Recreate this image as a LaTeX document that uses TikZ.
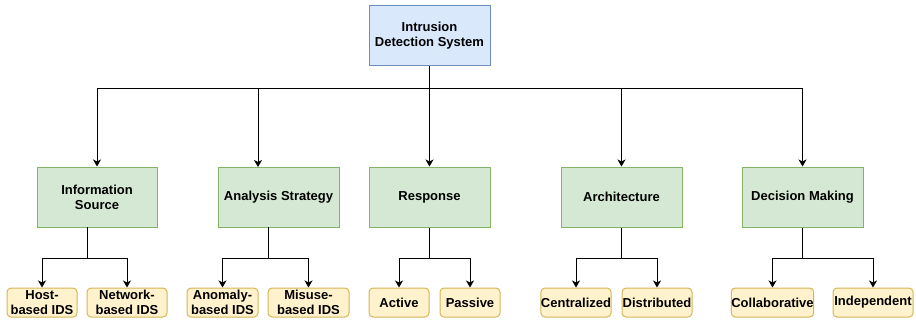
\documentclass[tikz,border=0pt]{standalone}
\usepackage{fontspec}
\setmainfont{Liberation Sans}
\usetikzlibrary{arrows.meta}
\definecolor{rootfill}{HTML}{DAE8FC}
\definecolor{rootline}{HTML}{6C8EBF}
\definecolor{catfill}{HTML}{D5E8D4}
\definecolor{catline}{HTML}{82B366}
\definecolor{leaffill}{HTML}{FFF2CC}
\definecolor{leafline}{HTML}{D6B656}
\tikzset{
  box/.style={draw, line width=1pt, inner sep=0pt, align=center,
    font=\bfseries\fontsize{13}{15}\selectfont},
  rootbox/.style={box, draw=rootline, fill=rootfill,
    minimum width=121, minimum height=60},
  catbox/.style={box, draw=catline, fill=catfill,
    minimum width=121, minimum height=60},
  leafbox/.style={box, draw=leafline, fill=leaffill, rounded corners=4pt,
    minimum height=29},
  link/.style={draw=black, line width=1pt},
  arr/.style={link, -{Stealth[length=7pt,width=8pt,inset=2pt]}},
}
\begin{document}
\begin{tikzpicture}[x=1pt,y=-1pt]
\useasboundingbox (0,0) rectangle (916,322);

% root
\node[rootbox] (ids) at (429.5,35.5) {Intrusion\\Detection System};

% categories
\node[catbox, minimum width=120] (info) at (97,197) {Information\\Source};
\node[catbox] (ana) at (278.5,197) {Analysis Strategy};
\node[catbox] (resp) at (429.5,197) {Response};
\node[catbox] (arch) at (621.5,197) {Architecture};
\node[catbox] (dec) at (802.5,197) {Decision Making};

% leaves
\node[leafbox, minimum width=70] (host) at (42,302.5) {Host-\\based IDS};
\node[leafbox, minimum width=80] (net) at (127,302.5) {Network-\\based IDS};
\node[leafbox, minimum width=71] (anom) at (222.5,302.5) {Anomaly-\\based IDS};
\node[leafbox, minimum width=81] (mis) at (308.5,302.5) {Misuse-\\based IDS};
\node[leafbox, minimum width=60] (act) at (399,302.5) {Active};
\node[leafbox, minimum width=60] (pas) at (470,302.5) {Passive};
\node[leafbox, minimum width=70] (cen) at (576,302.5) {Centralized};
\node[leafbox, minimum width=70] (dis) at (657,302.5) {Distributed};
\node[leafbox, minimum width=81] (col) at (772.5,302.5) {Collaborative};
\node[leafbox, minimum width=80] (ind) at (873,302.5) {Independent};

% junction points
\coordinate (bus) at (429.5,88);
\coordinate (anain) at (258,167);
\coordinate (infoout) at (87,227);
\coordinate (anaout) at (268,227);

% root to categories
\draw[link] (ids.south) -- (bus);
\draw[arr] (bus) -| (info.north);
\draw[arr] (bus) -| (anain);
\draw[arr] (bus) -- (resp.north);
\draw[arr] (bus) -| (arch.north);
\draw[arr] (bus) -| (dec.north);

% categories to leaves
\draw[arr] (infoout) -- ++(0,31) -| (host.north);
\draw[arr] (infoout) -- ++(0,31) -| (net.north);
\draw[arr] (anaout) -- ++(0,31) -| (anom.north);
\draw[arr] (anaout) -- ++(0,31) -| (mis.north);
\draw[arr] (resp.south) -- ++(0,31) -| (act.north);
\draw[arr] (resp.south) -- ++(0,31) -| (pas.north);
\draw[arr] (arch.south) -- ++(0,31) -| (cen.north);
\draw[arr] (arch.south) -- ++(0,31) -| (dis.north);
\draw[arr] (dec.south) -- ++(0,31) -| (col.north);
\draw[arr] (dec.south) -- ++(0,31) -| (ind.north);
\end{tikzpicture}
\end{document}
